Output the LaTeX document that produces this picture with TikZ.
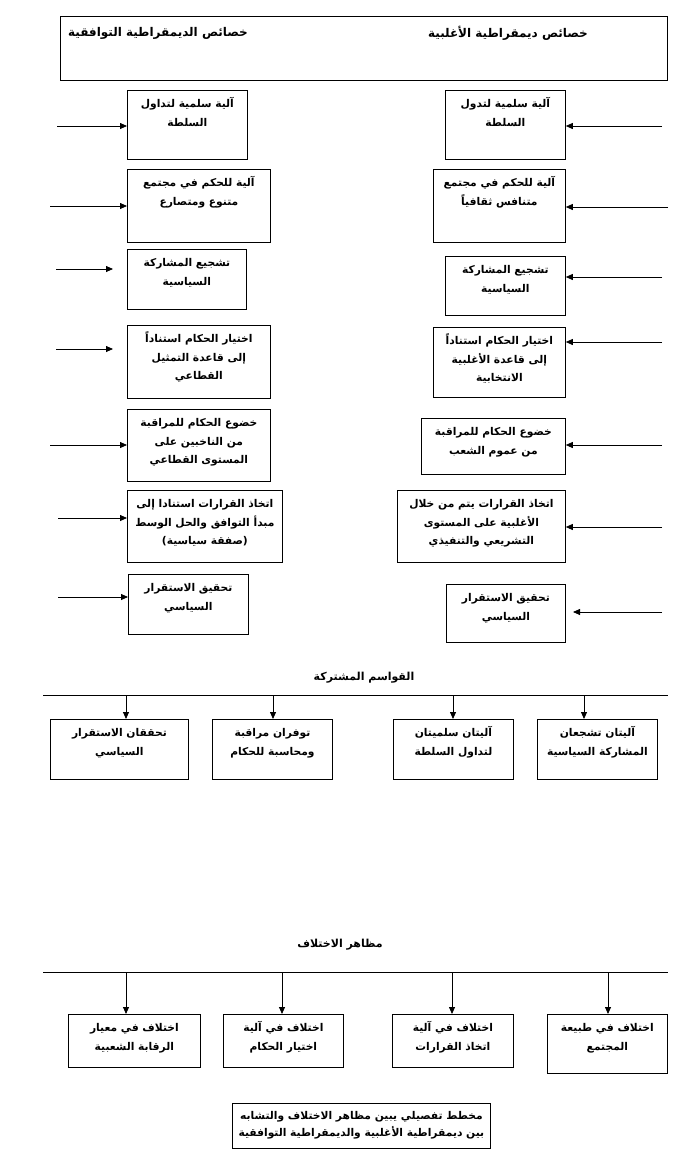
\documentclass[tikz,border=0pt]{standalone}
\usepackage{fontspec}
\newfontfamily\arabicfont[Script=Arabic]{DejaVu Sans}
\TeXXeTstate=1
\usetikzlibrary{arrows.meta}

\newcommand{\ar}[1]{\beginR#1\endR}
\newcommand{\celltext}[3]{\parbox[t][#2pt][t]{#1pt}{\centering\rule{0pt}{17.5pt}#3}}

\begin{document}
\begin{tikzpicture}[
    x=1pt, y=-1pt,
    cell/.style={rectangle, draw, line width=0.8pt, anchor=north west, inner sep=0pt},
    heading/.style={inner sep=0pt, font=\arabicfont\bfseries\fontsize{12}{14}\selectfont},
    title/.style={inner sep=0pt, font=\arabicfont\bfseries\fontsize{11}{13}\selectfont},
    arrow/.style={-{Triangle[length=7pt,width=6pt]}, line width=0.8pt},
    bus/.style={line width=0.8pt},
    every node/.style={font=\arabicfont\bfseries\fontsize{10.7}{18.5}\selectfont}
]
\useasboundingbox (0,0) rectangle (695,1167);

% Header
\node[cell, minimum width=607pt, minimum height=64pt] (head) at (60,16) {};
\node[heading] (head_cons) at (158,33) {\ar{خصائص الديمقراطية التوافقية}};
\node[heading] (head_maj) at (508,33) {\ar{خصائص ديمقراطية الأغلبية}};

% Consociational column
\node[cell] (cons1) at (127,90) {\celltext{120}{69}{\ar{آلية سلمية لتداول}\\\ar{السلطة}}};
\node[cell] (cons2) at (127,169) {\celltext{143}{73}{\ar{آلية للحكم في مجتمع}\\\ar{متنوع ومتصارع}}};
\node[cell] (cons3) at (127,249) {\celltext{119}{60}{\ar{تشجيع المشاركة}\\\ar{السياسية}}};
\node[cell] (cons4) at (127,325) {\celltext{143}{73}{\ar{اختيار الحكام استناداً}\\\ar{إلى قاعدة التمثيل}\\\ar{القطاعي}}};
\node[cell] (cons5) at (127,409) {\celltext{143}{72}{\ar{خضوع الحكام للمراقبة}\\\ar{من الناخبين على}\\\ar{المستوى القطاعي}}};
\node[cell] (cons6) at (127,490) {\celltext{155}{72}{\ar{اتخاذ القرارات استنادا إلى}\\\ar{مبدأ التوافق والحل الوسط}\\\ar{(صفقة سياسية)}}};
\node[cell] (cons7) at (128,574) {\celltext{120}{60}{\ar{تحقيق الاستقرار}\\\ar{السياسي}}};

% Majoritarian column
\node[cell] (maj1) at (445,90) {\celltext{120}{69}{\ar{آلية سلمية لتدول}\\\ar{السلطة}}};
\node[cell] (maj2) at (433,169) {\celltext{132}{73}{\ar{آلية للحكم في مجتمع}\\\ar{متنافس ثقافياً}}};
\node[cell] (maj3) at (445,256) {\celltext{120}{59}{\ar{تشجيع المشاركة}\\\ar{السياسية}}};
\node[cell] (maj4) at (433,327) {\celltext{132}{70}{\ar{اختيار الحكام استناداً}\\\ar{إلى قاعدة الأغلبية}\\\ar{الانتخابية}}};
\node[cell] (maj5) at (421,418) {\celltext{144}{56}{\ar{خضوع الحكام للمراقبة}\\\ar{من عموم الشعب}}};
\node[cell] (maj6) at (397,490) {\celltext{168}{72}{\ar{اتخاذ القرارات يتم من خلال}\\\ar{الأغلبية على المستوى}\\\ar{التشريعي والتنفيذي}}};
\node[cell] (maj7) at (446,584) {\celltext{119}{58}{\ar{تحقيق الاستقرار}\\\ar{السياسي}}};

% Arrows into the columns
\coordinate (cin1) at (57,126);
\coordinate (cin2) at (50,206);
\coordinate (cin3) at (56,269);
\coordinate (cin4) at (56,349);
\coordinate (cin5) at (50,445);
\coordinate (cin6) at (58,518);
\coordinate (cin7) at (58,597);
\coordinate (cend3) at (113,269);
\coordinate (cend4) at (113,349);
\draw[arrow] (cin1) -- (cin1 -| cons1.west);
\draw[arrow] (cin2) -- (cin2 -| cons2.west);
\draw[arrow] (cin3) -- (cend3);
\draw[arrow] (cin4) -- (cend4);
\draw[arrow] (cin5) -- (cin5 -| cons5.west);
\draw[arrow] (cin6) -- (cin6 -| cons6.west);
\draw[arrow] (cin7) -- (cin7 -| cons7.west);

\coordinate (min1) at (662,126);
\coordinate (min2) at (668,207);
\coordinate (min3) at (662,277);
\coordinate (min4) at (662,342);
\coordinate (min5) at (662,445);
\coordinate (min6) at (662,527);
\coordinate (min7) at (662,612);
\coordinate (mend7) at (573,612);
\foreach \i in {1,...,6}
    \draw[arrow] (min\i) -- (min\i -| maj\i.east);
\draw[arrow] (min7) -- (mend7);

% Common features
\node[title] (common) at (364,678) {\ar{القواسم المشتركة}};
\coordinate (bus_cw) at (43,695);
\coordinate (bus_ce) at (668,695);
\draw[bus] (bus_cw) -- (bus_ce);

\node[cell] (com1) at (537,719) {\celltext{120}{60}{\ar{آليتان تشجعان}\\\ar{المشاركة السياسية}}};
\node[cell] (com2) at (393,719) {\celltext{120}{60}{\ar{آليتان سلميتان}\\\ar{لتداول السلطة}}};
\node[cell] (com3) at (212,719) {\celltext{120}{60}{\ar{توفران مراقبة}\\\ar{ومحاسبة للحكام}}};
\node[cell] (com4) at (50,719) {\celltext{138}{60}{\ar{تحققان الاستقرار}\\\ar{السياسي}}};

\coordinate (ctap1) at (584,695);
\coordinate (ctap2) at (453,695);
\coordinate (ctap3) at (273,695);
\coordinate (ctap4) at (126,695);
\foreach \i in {1,...,4}
    \draw[arrow] (ctap\i) -- (ctap\i |- com\i.north);

% Differences
\node[title] (diff) at (340,945) {\ar{مظاهر الاختلاف}};
\coordinate (bus_dw) at (43,972);
\coordinate (bus_de) at (668,972);
\draw[bus] (bus_dw) -- (bus_de);

\node[cell] (dif1) at (547,1014) {\celltext{120}{59}{\ar{اختلاف في طبيعة}\\\ar{المجتمع}}};
\node[cell] (dif2) at (392,1014) {\celltext{121}{53}{\ar{اختلاف في آلية}\\\ar{اتخاذ القرارات}}};
\node[cell] (dif3) at (223,1014) {\celltext{120}{53}{\ar{اختلاف في آلية}\\\ar{اختيار الحكام}}};
\node[cell] (dif4) at (68,1014) {\celltext{132}{53}{\ar{اختلاف في معيار}\\\ar{الرقابة الشعبية}}};

\coordinate (dtap1) at (608,972);
\coordinate (dtap2) at (452,972);
\coordinate (dtap3) at (282,972);
\coordinate (dtap4) at (126,972);
\foreach \i in {1,...,4}
    \draw[arrow] (dtap\i) -- (dtap\i |- dif\i.north);

% Caption
\node[cell] (caption) at (232,1103) {\parbox[t][45pt][t]{258pt}{\centering\rule{0pt}{16pt}\ar{مخطط تفصيلي يبين مظاهر الاختلاف والتشابه}\\[-1.5pt]\ar{بين ديمقراطية الأغلبية والديمقراطية التوافقية}}};

\end{tikzpicture}
\end{document}
